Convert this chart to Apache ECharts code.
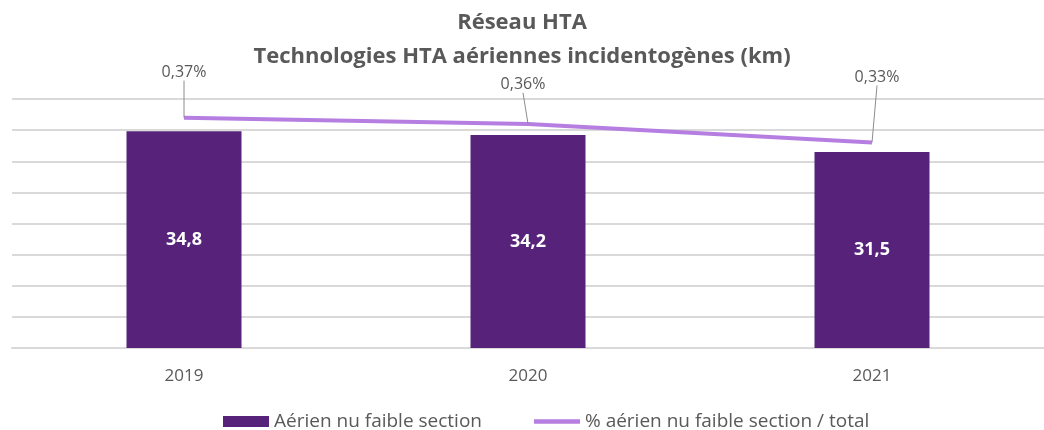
<!DOCTYPE html>
<html>
<head>
<meta charset="utf-8">
<script src="https://cdn.jsdelivr.net/npm/echarts@6/dist/echarts.min.js"></script>
<style>
  html, body { margin: 0; padding: 0; background: #fff; }
  #chart { width: 1044px; height: 430px; }
</style>
</head>
<body>
<div id="chart"></div>
<script>
const years = ['2019', '2020', '2021'];
const kmValues = [34.8, 34.2, 31.5];
const pctValues = [0.37, 0.36, 0.33];

// décalages des étiquettes du % (repris de l'image)
const labelShift = [
  { dx: 0, dy: -32 },
  { dx: -5, dy: -26 },
  { dx: 5, dy: -52 },
];

const chart = echarts.init(document.getElementById('chart'));

const fmt = (v) => String(v).replace('.', ',');

const option = {
  animation: false,
  textStyle: { fontFamily: 'Open Sans' },
  title: {
    text: 'Réseau HTA\nTechnologies HTA aériennes incidentogènes (km)',
    left: 'center',
    top: 1,
    textStyle: {
      color: '#595959',
      fontSize: 22,
      fontWeight: 'bold',
      lineHeight: 34,
      fontFamily: 'Open Sans',
    },
  },
  legend: {
    left: 218,
    bottom: -6,
    itemGap: 52,
    itemWidth: 46,
    itemHeight: 11,
    textStyle: { color: '#595959', fontSize: 19 },
    data: [
      { name: 'Aérien nu faible section', icon: 'rect' },
      { name: '% aérien nu faible section / total', icon: 'path://M0 0 H40 V4 H0 Z' },
    ],
  },
  grid: {
    left: 12,
    width: 1038,
    top: 99,
    height: 249,
  },
  xAxis: {
    type: 'category',
    data: years,
    axisTick: { show: false },
    axisLine: { lineStyle: { color: '#d9d9d9', width: 2 } },
    axisLabel: { color: '#595959', fontSize: 17, margin: 20 },
  },
  yAxis: [
    {
      type: 'value',
      min: 0,
      max: 40,
      interval: 5,
      axisLabel: { show: false },
      splitLine: { lineStyle: { color: '#d9d9d9', width: 2 } },
    },
    {
      type: 'value',
      min: 0,
      max: 0.4,
      axisLabel: { show: false },
      splitLine: { show: false },
    },
  ],
  series: [
    {
      name: 'Aérien nu faible section',
      type: 'bar',
      data: kmValues,
      barWidth: 115,
      itemStyle: { color: '#57237a' },
      label: {
        show: true,
        position: 'inside',
        color: '#fff',
        fontWeight: 'bold',
        fontSize: 18,
        formatter: (p) => fmt(p.value),
      },
    },
    {
      name: '% aérien nu faible section / total',
      type: 'line',
      yAxisIndex: 1,
      data: pctValues,
      symbol: 'circle',
      symbolSize: 0.1,
      lineStyle: { color: '#b57ee0', width: 4 },
      itemStyle: { color: '#b57ee0' },
      label: {
        show: true,
        position: 'top',
        color: '#595959',
        fontSize: 16,
        formatter: (p) => fmt(p.value) + '%',
      },
      labelLine: {
        show: true,
        lineStyle: { color: '#8c8c8c', width: 1 },
      },
      labelLayout: (params) => labelShift[params.dataIndex],
    },
  ],
};

chart.setOption(option);
</script>
</body>
</html>
